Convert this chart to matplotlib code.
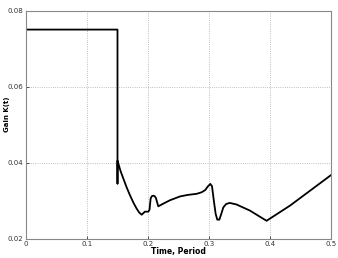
import matplotlib
matplotlib.use("Agg")
import matplotlib.pyplot as plt

# gain K(t)
time = [0.0, 0.15, 0.15, 0.15, 0.155, 0.1596, 0.165, 0.1705, 0.176, 0.1814, 0.1855, 0.1897,
        0.195, 0.2005, 0.2025, 0.2044, 0.2065, 0.2087, 0.2108, 0.213, 0.2169,
        0.225, 0.236, 0.2525, 0.265, 0.280, 0.288, 0.294, 0.298, 0.3022, 0.305,
        0.308, 0.311, 0.3137, 0.317, 0.320, 0.3235, 0.328, 0.334, 0.345, 0.367,
        0.3945, 0.433, 0.5]
gain = [0.075, 0.075, 0.0345, 0.0405, 0.0378, 0.0358, 0.0335, 0.0314, 0.0295, 0.0279, 0.0269, 0.0263,
        0.0271, 0.0271, 0.0276, 0.0306, 0.0312, 0.0313, 0.0312, 0.0307, 0.0285,
        0.0292, 0.0301, 0.0311, 0.0315, 0.0318, 0.0322, 0.0328, 0.0337, 0.0344, 0.0338,
        0.0300, 0.0265, 0.0250, 0.0250, 0.0264, 0.0282, 0.0291, 0.0294, 0.0290, 0.0274,
        0.0247, 0.0287, 0.0367]

xticks = [0, 0.1, 0.2, 0.3, 0.4, 0.5]
xticklabels = ["0", "0.1", "0.2", "0.3", "0.4", "0.5"]
yticks = [0.02, 0.04, 0.06, 0.08]
yticklabels = ["0.02", "0.04", "0.06", "0.08"]

fig = plt.figure(figsize=(3.38, 2.58), dpi=100)
ax = fig.add_axes([0.077, 0.075, 0.902, 0.884])
ax.plot(time, gain, color="black", lw=1.3, solid_joinstyle="round")

ax.set_xlim(0, 0.5)
ax.set_ylim(0.02, 0.08)
ax.set_xticks(xticks)
ax.set_xticklabels(xticklabels)
ax.set_yticks(yticks)
ax.set_yticklabels(yticklabels)
ax.tick_params(direction="in", length=2, width=0.6, labelsize=5, colors="#333333", pad=2)
ax.grid(True, linestyle=":", color="#aaaaaa", lw=0.6)
for s in ax.spines.values():
    s.set_color("#888888")
    s.set_linewidth(0.8)

ax.set_xlabel("Time, Period", fontsize=5.5, fontweight="bold", labelpad=0)
ax.set_ylabel("Gain K(t)", fontsize=5, fontweight="bold")
ax.yaxis.set_label_coords(-0.052, 0.545)

fig.savefig("out.png", dpi=100)
